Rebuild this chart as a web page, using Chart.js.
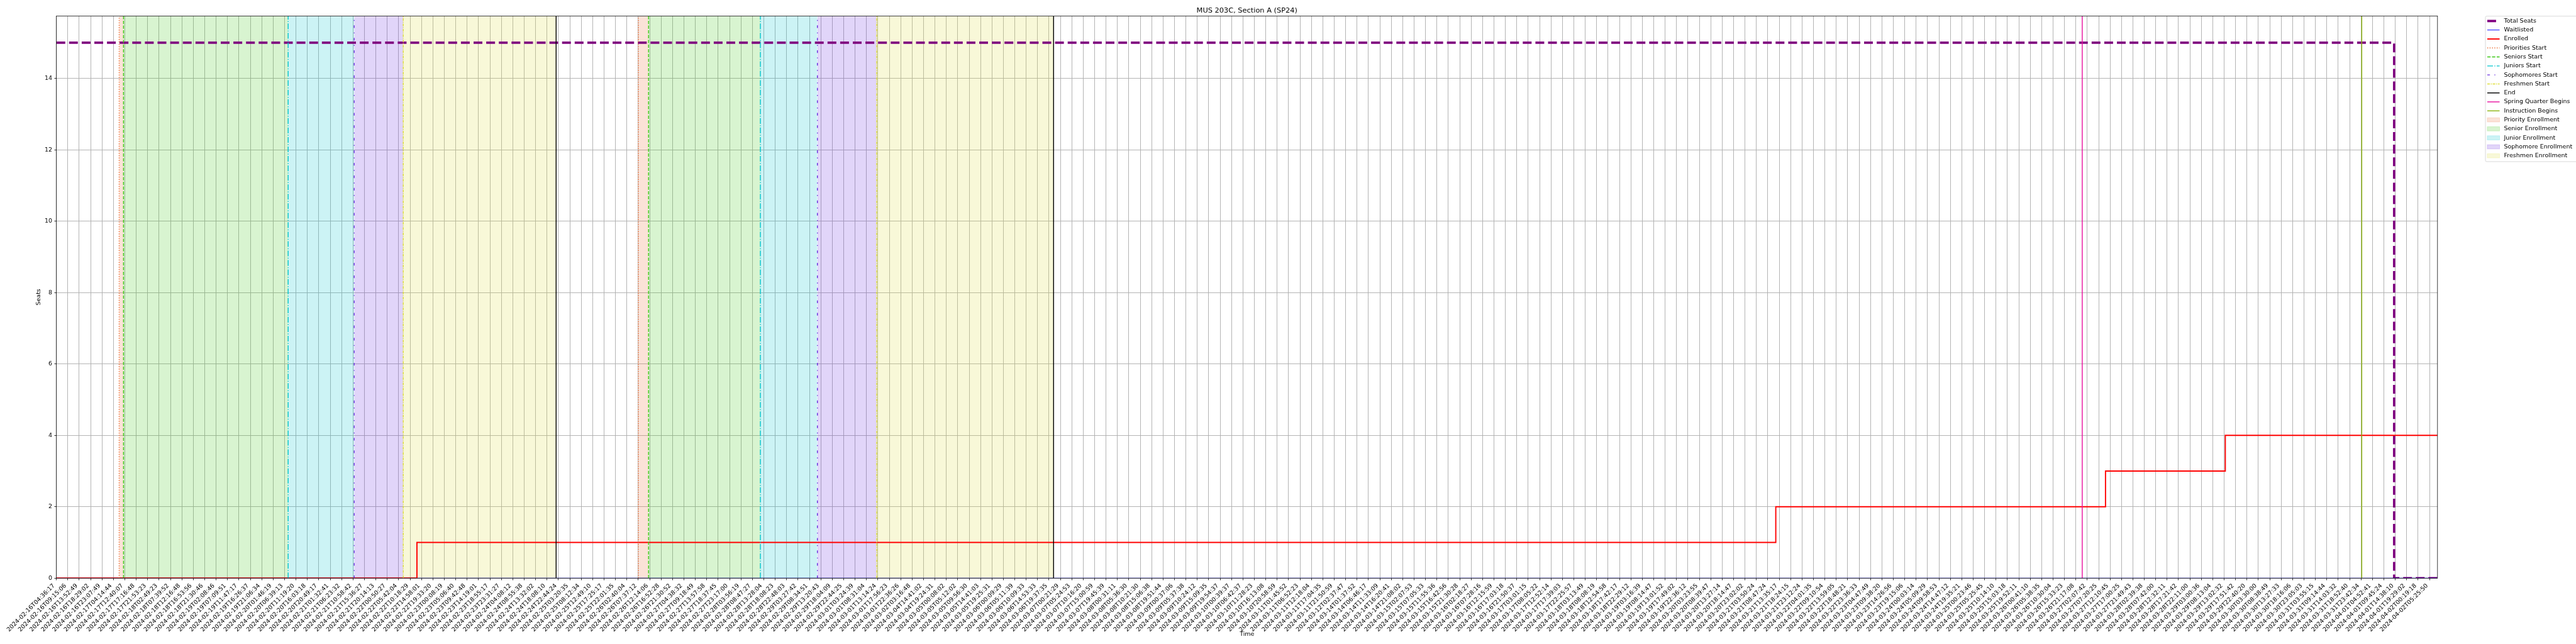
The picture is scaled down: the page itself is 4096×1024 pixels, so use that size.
<!DOCTYPE html>
<html><head><meta charset="utf-8">
<script src="https://cdn.jsdelivr.net/npm/chart.js@4.4.1/dist/chart.umd.min.js"></script>
<style>html,body{margin:0;padding:0;background:#fff;overflow:hidden}canvas{display:block}</style>
</head><body>
<canvas id="c" width="4096" height="1024" style="width:4096px;height:1024px"></canvas>
<script>
// ---------------- DATA ----------------
const titleText = 'MUS 203C, Section A (SP24)';
const xAxisTitle = 'Time';
const yAxisTitle = 'Seats';
const tickLabels = [
"2024-02-16T04:36:17","2024-02-16T09:15:06","2024-02-16T13:52:49","2024-02-16T18:29:02","2024-02-16T23:07:49",
"2024-02-17T04:14:44","2024-02-17T12:40:07","2024-02-17T17:16:48","2024-02-17T21:53:23","2024-02-18T02:49:23",
"2024-02-18T07:39:52","2024-02-18T12:16:48","2024-02-18T16:53:56","2024-02-18T21:30:46","2024-02-19T02:08:46",
"2024-02-19T07:09:51","2024-02-19T11:47:17","2024-02-19T16:26:37","2024-02-19T21:06:34","2024-02-20T01:46:19",
"2024-02-20T06:39:13","2024-02-20T11:19:20","2024-02-20T16:03:18","2024-02-20T20:49:17","2024-02-21T01:32:41",
"2024-02-21T06:23:32","2024-02-21T10:58:42","2024-02-21T15:36:27","2024-02-21T20:14:13","2024-02-22T00:50:27",
"2024-02-22T05:42:04","2024-02-22T10:18:29","2024-02-22T14:58:01","2024-02-22T19:33:20","2024-02-23T00:08:19",
"2024-02-23T05:06:40","2024-02-23T09:42:48","2024-02-23T14:19:01","2024-02-23T18:55:17","2024-02-23T23:31:27",
"2024-02-24T04:08:12","2024-02-24T08:55:38","2024-02-24T13:32:02","2024-02-24T18:08:10","2024-02-24T22:44:24",
"2024-02-25T03:20:35","2024-02-25T08:12:34","2024-02-25T12:49:10","2024-02-25T17:25:17","2024-02-25T22:01:35",
"2024-02-26T02:40:04","2024-02-26T07:37:12","2024-02-26T12:14:06","2024-02-26T16:52:28","2024-02-26T21:30:52",
"2024-02-27T04:38:32","2024-02-27T09:18:49","2024-02-27T13:57:58","2024-02-27T18:37:45","2024-02-27T23:17:00",
"2024-02-28T03:56:19","2024-02-28T08:47:27","2024-02-28T13:28:04","2024-02-28T18:08:23","2024-02-28T22:48:03",
"2024-02-29T03:27:42","2024-02-29T08:34:51","2024-02-29T13:20:43","2024-02-29T18:04:09","2024-02-29T22:44:25",
"2024-03-01T03:24:39","2024-03-01T08:31:04","2024-03-01T13:14:24","2024-03-01T17:56:23","2024-03-01T22:36:26",
"2024-03-02T03:16:48","2024-03-04T14:41:02","2024-03-04T19:24:31","2024-03-05T00:08:02","2024-03-05T05:12:02",
"2024-03-05T09:56:30","2024-03-05T14:41:03","2024-03-05T19:25:31","2024-03-06T00:09:29","2024-03-06T05:11:39",
"2024-03-06T10:09:33","2024-03-06T14:53:33","2024-03-06T19:37:35","2024-03-07T00:21:29","2024-03-07T05:24:53",
"2024-03-07T10:16:20","2024-03-07T15:00:59","2024-03-07T19:45:39","2024-03-08T00:31:11","2024-03-08T05:36:30",
"2024-03-08T10:21:30","2024-03-08T15:06:38","2024-03-08T19:51:44","2024-03-09T00:37:06","2024-03-09T05:37:38",
"2024-03-09T10:24:12","2024-03-09T15:09:35","2024-03-09T19:54:37","2024-03-10T00:39:37","2024-03-10T06:42:37",
"2024-03-10T11:28:23","2024-03-10T16:13:08","2024-03-10T20:58:59","2024-03-11T01:45:52","2024-03-11T06:52:23",
"2024-03-11T12:18:04","2024-03-11T17:04:35","2024-03-11T21:50:59","2024-03-12T02:37:47","2024-03-14T01:37:52",
"2024-03-14T06:46:17","2024-03-14T11:33:09","2024-03-14T16:20:41","2024-03-14T21:08:02","2024-03-15T02:07:53",
"2024-03-15T07:05:33","2024-03-15T11:55:36","2024-03-15T16:42:56","2024-03-15T21:30:28","2024-03-16T02:18:27",
"2024-03-16T07:28:16","2024-03-16T12:15:59","2024-03-16T17:03:18","2024-03-16T21:50:37","2024-03-17T03:01:15",
"2024-03-17T08:05:22","2024-03-17T12:52:14","2024-03-17T17:39:03","2024-03-17T22:25:57","2024-03-18T03:13:49",
"2024-03-18T08:08:19","2024-03-18T12:54:58","2024-03-18T17:42:17","2024-03-18T22:29:12","2024-03-19T03:16:39",
"2024-03-19T08:14:47","2024-03-19T13:01:52","2024-03-19T17:49:02","2024-03-19T22:36:12","2024-03-20T03:23:55",
"2024-03-20T08:39:47","2024-03-20T13:27:14","2024-03-20T18:14:47","2024-03-20T23:02:02","2024-03-21T03:50:24",
"2024-03-21T08:47:24","2024-03-21T13:35:17","2024-03-21T18:24:15","2024-03-21T23:12:24","2024-03-22T04:01:35",
"2024-03-22T09:10:54","2024-03-22T13:59:05","2024-03-22T18:48:21","2024-03-22T23:36:33","2024-03-23T04:47:49",
"2024-03-23T09:38:20","2024-03-23T14:26:56","2024-03-23T19:15:06","2024-03-24T00:03:14","2024-03-24T05:09:29",
"2024-03-24T09:58:53","2024-03-24T14:47:12","2024-03-24T19:35:21","2024-03-25T00:23:46","2024-03-25T05:25:45",
"2024-03-25T10:14:10","2024-03-25T15:03:18","2024-03-25T19:52:11","2024-03-26T00:41:10","2024-03-26T05:38:35",
"2024-03-26T10:30:04","2024-03-26T15:33:23","2024-03-26T21:17:08","2024-03-27T02:07:42","2024-03-27T07:20:25",
"2024-03-27T12:10:45","2024-03-27T17:00:25","2024-03-27T21:49:43","2024-03-28T02:39:38","2024-03-28T07:42:00",
"2024-03-28T12:32:11","2024-03-28T17:21:42","2024-03-28T22:11:00","2024-03-29T03:00:36","2024-03-29T08:13:04",
"2024-03-29T13:02:32","2024-03-29T17:51:42","2024-03-29T22:40:20","2024-03-30T03:30:00","2024-03-30T08:38:49",
"2024-03-30T13:27:33","2024-03-30T18:16:06","2024-03-30T23:05:03","2024-03-31T03:55:15","2024-03-31T09:14:44",
"2024-03-31T14:03:32","2024-03-31T18:52:40","2024-03-31T23:42:34","2024-04-01T04:52:41","2024-04-01T09:45:24",
"2024-04-01T14:38:10","2024-04-01T19:29:02","2024-04-02T00:19:18","2024-04-02T05:25:50"
];
const yTickValues = [0, 2, 4, 6, 8, 10, 12, 14];
// x positions are in tick-index units (tick i = tickLabels[i])
const totalSeatsX = [0, 204.9, 208.7];
const totalSeatsY = [15, 0, 0];
const waitlistedX = [0, 208.7];
const waitlistedY = [0, 0];
const enrolledX = [0, 31.6, 150.7, 179.6, 190.1, 208.7];
const enrolledY = [0, 1, 2, 3, 4, 4];
const prioritiesStart = [5.5, 51.0];
const seniorsStart = [5.88, 51.9];
const juniorsStart = [20.31, 61.7];
const sophomoresStart = [26.1, 66.7];
const freshmenStart = [30.4, 71.9];
const enrollmentEnd = [43.8, 87.4];
const springQuarterBegins = [177.56];
const instructionBegins = [202.06];

// ---------------- LAYOUT / STYLE ----------------
const X_MIN = 0, X_MAX = 208.7, Y_MIN = 0, Y_MAX = 15.75;
const AREA = {left: 89.7, right: 3875.8, top: 25.4, bottom: 919.3};
const FONT = '"DejaVu Sans"';
const FS = 9.47;
const ST = {
  total:      {color:'#800080', width:3.79, dash:[14.03, 6.07]},
  waitlisted: {color:'#0000ff', width:0.95, dash:[]},
  enrolled:   {color:'#ff0000', width:1.9,  dash:[]},
  priorities: {color:'#ec6e35', width:1.42, dash:[1.42, 2.35]},
  seniors:    {color:'#3cc814', width:1.42, dash:[5.26, 2.27]},
  juniors:    {color:'#00c5cd', width:1.42, dash:[9.09, 2.27, 1.42, 2.27]},
  sophomores: {color:'#6b2fe0', width:1.42, dash:[4.26, 7.1, 1.42, 7.1]},
  freshmen:   {color:'#dede3a', width:1.42, dash:[4.26, 1.42, 1.42, 1.42]},
  end:        {color:'#000000', width:1.42, dash:[]},
  spring:     {color:'#e8109e', width:1.42, dash:[]},
  instruction:{color:'#8db510', width:1.42, dash:[]}
};
const FILL = {
  priority:  'rgba(236,110,53,0.2)',
  senior:    'rgba(60,200,20,0.2)',
  junior:    'rgba(0,197,205,0.2)',
  sophomore: 'rgba(107,47,224,0.2)',
  freshman:  'rgba(222,222,58,0.2)'
};

const pts = (xs, ys) => xs.map((x, i) => ({x, y: ys[i]}));
let ord = 1000;
function lineDS(label, data, st, stepped) {
  return {label, data, borderColor: st.color, backgroundColor: st.color, borderWidth: st.width,
    borderDash: st.dash, borderCapStyle: 'butt', borderJoinStyle: 'miter', pointRadius: 0,
    pointHoverRadius: 0, pointHitRadius: 0, fill: false, tension: 0, stepped: stepped || false,
    clip: 0, order: ord--};
}
function spanDS(label, a, b, color) {
  return {label, data: [{x: a, y: Y_MAX}, {x: b, y: Y_MAX}], borderWidth: 0, borderColor: 'rgba(0,0,0,0)',
    backgroundColor: color, fill: 'origin', pointRadius: 0, pointHoverRadius: 0, tension: 0, clip: 0, order: 5000};
}
const vline = x => [{x, y: Y_MIN}, {x, y: Y_MAX}];

const datasets = [];
datasets.push(lineDS('Total Seats', pts(totalSeatsX, totalSeatsY), ST.total, 'before'));
datasets.push(lineDS('Waitlisted', pts(waitlistedX, waitlistedY), ST.waitlisted, 'before'));
datasets.push(lineDS('Enrolled', pts(enrolledX, enrolledY), ST.enrolled, 'before'));
for (let r = 0; r < prioritiesStart.length; r++) {
  datasets.push(lineDS('Priorities Start', vline(prioritiesStart[r]), ST.priorities));
  datasets.push(lineDS('Seniors Start', vline(seniorsStart[r]), ST.seniors));
  datasets.push(lineDS('Juniors Start', vline(juniorsStart[r]), ST.juniors));
  datasets.push(lineDS('Sophomores Start', vline(sophomoresStart[r]), ST.sophomores));
  datasets.push(lineDS('Freshmen Start', vline(freshmenStart[r]), ST.freshmen));
  datasets.push(lineDS('End', vline(enrollmentEnd[r]), ST.end));
}
springQuarterBegins.forEach(x => datasets.push(lineDS('Spring Quarter Begins', vline(x), ST.spring)));
instructionBegins.forEach(x => datasets.push(lineDS('Instruction Begins', vline(x), ST.instruction)));
for (let r = 0; r < prioritiesStart.length; r++) {
  datasets.push(spanDS('Priority Enrollment', prioritiesStart[r], seniorsStart[r], FILL.priority));
  datasets.push(spanDS('Senior Enrollment', seniorsStart[r], juniorsStart[r], FILL.senior));
  datasets.push(spanDS('Junior Enrollment', juniorsStart[r], sophomoresStart[r], FILL.junior));
  datasets.push(spanDS('Sophomore Enrollment', sophomoresStart[r], freshmenStart[r], FILL.sophomore));
  datasets.push(spanDS('Freshmen Enrollment', freshmenStart[r], enrollmentEnd[r], FILL.freshman));
}

const legendEntries = [
  {label:'Total Seats', st: ST.total}, {label:'Waitlisted', st: ST.waitlisted}, {label:'Enrolled', st: ST.enrolled},
  {label:'Priorities Start', st: ST.priorities}, {label:'Seniors Start', st: ST.seniors},
  {label:'Juniors Start', st: ST.juniors}, {label:'Sophomores Start', st: ST.sophomores},
  {label:'Freshmen Start', st: ST.freshmen}, {label:'End', st: ST.end},
  {label:'Spring Quarter Begins', st: ST.spring}, {label:'Instruction Begins', st: ST.instruction},
  {label:'Priority Enrollment', fill: FILL.priority}, {label:'Senior Enrollment', fill: FILL.senior},
  {label:'Junior Enrollment', fill: FILL.junior}, {label:'Sophomore Enrollment', fill: FILL.sophomore},
  {label:'Freshmen Enrollment', fill: FILL.freshman}
];
const LEG = {left: 3952, top: 25.7, bottom: 257, right: 4110, hx0: 3954.9, hx1: 3974.5, tx: 3981.5, row0: 33.4, step: 14.29};

const decor = {
  id: 'decor',
  afterDraw(chart) {
    const ctx = chart.ctx, a = chart.chartArea;
    ctx.save();
    ctx.setLineDash([]);
    ctx.strokeStyle = '#000'; ctx.lineWidth = 0.76;
    ctx.strokeRect(a.left, a.top, a.right - a.left, a.bottom - a.top);
    ctx.fillStyle = '#000';
    ctx.textAlign = 'center'; ctx.textBaseline = 'alphabetic';
    ctx.font = '11.37px ' + FONT;
    ctx.fillText(titleText, (a.left + a.right) / 2, a.top - 5.68);
    ctx.font = FS + 'px ' + FONT;
    ctx.fillText(xAxisTitle, (a.left + a.right) / 2, 1010.6);
    ctx.save();
    ctx.translate(61.4, (a.top + a.bottom) / 2); ctx.rotate(-Math.PI / 2);
    ctx.textBaseline = 'middle';
    ctx.fillText(yAxisTitle, 0, 0);
    ctx.restore();
    // legend
    ctx.beginPath();
    if (ctx.roundRect) ctx.roundRect(LEG.left, LEG.top, LEG.right - LEG.left, LEG.bottom - LEG.top, 1.9);
    else ctx.rect(LEG.left, LEG.top, LEG.right - LEG.left, LEG.bottom - LEG.top);
    ctx.fillStyle = 'rgba(255,255,255,0.8)'; ctx.fill();
    ctx.strokeStyle = '#cccccc'; ctx.lineWidth = 0.76; ctx.stroke();
    legendEntries.forEach((e, i) => {
      const y = LEG.row0 + i * LEG.step;
      if (e.st) {
        ctx.beginPath(); ctx.setLineDash(e.st.dash); ctx.lineCap = 'butt';
        ctx.strokeStyle = e.st.color; ctx.lineWidth = e.st.width;
        ctx.moveTo(LEG.hx0, y); ctx.lineTo(LEG.hx1, y); ctx.stroke(); ctx.setLineDash([]);
      } else {
        const h = 6.63;
        ctx.fillStyle = e.fill; ctx.fillRect(LEG.hx0, y - h / 2, LEG.hx1 - LEG.hx0, h);
        ctx.strokeStyle = e.fill; ctx.lineWidth = 0.95; ctx.strokeRect(LEG.hx0, y - h / 2, LEG.hx1 - LEG.hx0, h);
      }
      ctx.fillStyle = '#000'; ctx.textAlign = 'left'; ctx.textBaseline = 'middle';
      ctx.font = FS + 'px ' + FONT;
      ctx.fillText(e.label, LEG.tx, y);
    });
    ctx.restore();
  }
};

Chart.defaults.font.family = 'DejaVu Sans';
new Chart(document.getElementById('c'), {
  type: 'line',
  data: {datasets},
  options: {
    responsive: false, animation: false, devicePixelRatio: 1, events: [],
    layout: {padding: {left: 0, top: AREA.top, right: 4096 - AREA.right, bottom: 0}},
    plugins: {legend: {display: false}, title: {display: false}, tooltip: {enabled: false}},
    scales: {
      x: {
        type: 'linear', min: X_MIN, max: X_MAX,
        afterBuildTicks: s => { s.ticks = tickLabels.map((_, i) => ({value: i})); },
        afterFit: s => { s.height = 1024 - AREA.bottom; },
        ticks: {autoSkip: false, maxRotation: 45, minRotation: 45, padding: 3.3, labelOffset: -3.9,
          color: '#000', font: {size: FS, family: 'DejaVu Sans'},
          callback: v => tickLabels[v]},
        grid: {color: '#b0b0b0', lineWidth: 0.95, drawTicks: true, tickLength: 3.3, tickColor: '#000', tickWidth: 0.8},
        border: {display: false}
      },
      y: {
        type: 'linear', min: Y_MIN, max: Y_MAX,
        afterBuildTicks: s => { s.ticks = yTickValues.map(v => ({value: v})); },
        afterFit: s => { s.width = AREA.left; },
        ticks: {padding: 3.3, color: '#000', font: {size: FS, family: 'DejaVu Sans'}, callback: v => String(v)},
        grid: {color: '#b0b0b0', lineWidth: 0.95, drawTicks: true, tickLength: 3.3, tickColor: '#000', tickWidth: 0.8},
        border: {display: false}
      }
    }
  },
  plugins: [decor]
});
</script>
</body></html>
